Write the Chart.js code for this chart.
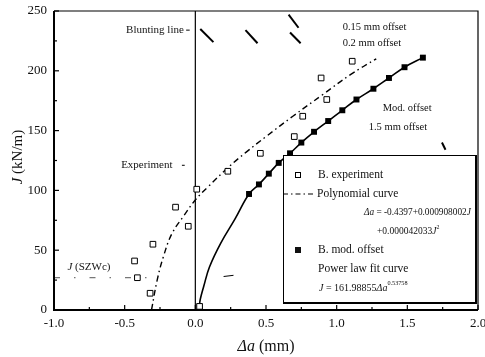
<!DOCTYPE html>
<html>
<head>
<meta charset="utf-8">
<script src="https://cdn.jsdelivr.net/npm/chart.js@4.4.0/dist/chart.umd.min.js"></script>
<style>
  body { margin: 0; background: #fff; }
  #wrap { position: relative; width: 485px; height: 357px; }
</style>
</head>
<body>
<div id="wrap"><canvas id="grafico"></canvas></div>
<script>
// eixos
const xMin = -1.0, xMax = 2.0, xStep = 0.5;
const yMin = 0, yMax = 250, yStep = 50;

// B. experiment (quadrados vazios)
const expDa = [-0.43, -0.41, -0.32, -0.30, -0.14, -0.05, 0.01, 0.03, 0.23, 0.46, 0.70, 0.76, 0.89, 0.93, 1.11];
const expJ  = [41, 27, 14, 55, 86, 70, 101, 3, 116, 131, 145, 162, 194, 176, 208];

// Polynomial curve (traço-ponto)
const polyDa = [-0.31, -0.27, -0.225, -0.165, -0.08, 0.0, 0.09, 0.24, 0.36, 0.50, 0.69, 0.90, 1.10, 1.28];
const polyJ  = [0, 25, 45, 64, 79, 92, 103, 120, 132, 145, 162, 180, 197, 210];

// B. mod. offset (quadrados cheios)
const modDa = [0.03, 0.38, 0.45, 0.52, 0.59, 0.67, 0.75, 0.84, 0.94, 1.04, 1.14, 1.26, 1.37, 1.48, 1.61];
const modJ  = [3, 97, 105, 114, 123, 131, 140, 149, 158, 167, 176, 185, 194, 203, 211];

// Power law fit curve (linha cheia)
const powDa = [0.028, 0.035, 0.06, 0.10, 0.18, 0.28, 0.38, 0.45, 0.52, 0.59, 0.67, 0.75, 0.84, 0.94, 1.04, 1.14, 1.26, 1.37, 1.48, 1.61];
const powJ  = [3, 9, 20, 36, 56, 76, 97, 105, 114, 123, 131, 140, 149, 158, 167, 176, 185, 194, 203, 211];

// Blunting line e J(SZWc)
const bluntDa = [0, 0];
const bluntJ = [0, 250];
const szwcDa = [-1.0, -0.31];
const szwcJ = [27, 27];

const serif = "'Liberation Serif', 'Times New Roman', serif";
const pts = (xs, ys) => xs.map((x, i) => ({ x: x, y: ys[i] }));

function drawRuns(ctx, x, y, runs, size) {
  runs.forEach(r => {
    const s = r.sup ? size * 0.62 : size;
    ctx.font = (r.it ? 'italic ' : '') + s + 'px ' + serif;
    ctx.fillText(r.t, x, y + (r.sup ? -size * 0.42 : 0));
    x += ctx.measureText(r.t).width;
  });
  return x;
}
function runsWidth(ctx, runs, size) {
  let w = 0;
  runs.forEach(r => {
    const s = r.sup ? size * 0.62 : size;
    ctx.font = (r.it ? 'italic ' : '') + s + 'px ' + serif;
    w += ctx.measureText(r.t).width;
  });
  return w;
}

// textos soltos no gráfico (posição em unidades dos eixos)
const notas = [
  { t: [{ t: 'Blunting line' }], x: -0.49, y: 234, s: 11 },
  { t: [{ t: 'Experiment' }], x: -0.525, y: 121, s: 11 },
  { t: [{ t: 'J', it: true }, { t: ' (SZWc)' }], x: -0.905, y: 36, s: 11 },
  { t: [{ t: '0.15 mm offset' }], x: 1.043, y: 236, s: 10.5 },
  { t: [{ t: '0.2 mm offset' }], x: 1.043, y: 223, s: 10.5 },
  { t: [{ t: 'Mod. offset' }], x: 1.326, y: 169, s: 10.5 },
  { t: [{ t: '1.5 mm offset' }], x: 1.227, y: 153, s: 10.5 }
];
// pequenas setas / traços do original
const marcas = [
  [-0.065, 234, -0.04, 234, 1], [-0.095, 121, -0.075, 121, 1],
  [0.035, 235, 0.128, 224, 2], [0.355, 234, 0.44, 223, 2],
  [0.66, 247, 0.73, 236, 2], [0.67, 232, 0.745, 223, 2],
  [1.745, 140, 1.77, 134, 2], [0.20, 28, 0.27, 29, 1]
];

const molduraPlugin = {
  id: 'moldura',
  afterDatasetsDraw(chart) {
    const ctx = chart.ctx;
    const a = chart.chartArea;
    const xs = chart.scales.x, ys = chart.scales.y;
    ctx.save();
    ctx.strokeStyle = '#000';
    ctx.fillStyle = '#111';

    // moldura
    ctx.lineWidth = 1.2;
    ctx.beginPath();
    ctx.moveTo(a.left, a.top); ctx.lineTo(a.right, a.top); ctx.lineTo(a.right, a.bottom);
    ctx.stroke();
    ctx.lineWidth = 2;
    ctx.beginPath();
    ctx.moveTo(a.left, a.top); ctx.lineTo(a.left, a.bottom); ctx.lineTo(a.right, a.bottom);
    ctx.stroke();

    // ticks para dentro
    ctx.lineWidth = 1.2;
    for (let v = xMin; v <= xMax + 1e-9; v += xStep / 2) {
      const px = xs.getPixelForValue(v);
      const major = Math.abs(v / xStep - Math.round(v / xStep)) < 1e-6;
      ctx.beginPath(); ctx.moveTo(px, a.bottom); ctx.lineTo(px, a.bottom - (major ? 5 : 3)); ctx.stroke();
    }
    for (let v = yMin; v <= yMax + 1e-9; v += yStep / 2) {
      const py = ys.getPixelForValue(v);
      const major = v % yStep === 0;
      ctx.beginPath(); ctx.moveTo(a.left, py); ctx.lineTo(a.left + (major ? 5 : 3), py); ctx.stroke();
    }

    // títulos dos eixos
    ctx.textBaseline = 'middle';
    const tx = [{ t: 'Δa', it: true }, { t: ' (mm)' }];
    drawRuns(ctx, 266 - runsWidth(ctx, tx, 16) / 2, 347, tx, 16);
    const ty = [{ t: 'J', it: true }, { t: ' (kN/m)' }];
    ctx.save();
    ctx.translate(18, 157);
    ctx.rotate(-Math.PI / 2);
    drawRuns(ctx, -runsWidth(ctx, ty, 15) / 2, 0, ty, 15);
    ctx.restore();

    // notas
    notas.forEach(n => {
      drawRuns(ctx, xs.getPixelForValue(n.x), ys.getPixelForValue(n.y), n.t, n.s);
    });
    marcas.forEach(m => {
      ctx.lineWidth = m[4];
      ctx.beginPath();
      ctx.moveTo(xs.getPixelForValue(m[0]), ys.getPixelForValue(m[1]));
      ctx.lineTo(xs.getPixelForValue(m[2]), ys.getPixelForValue(m[3]));
      ctx.stroke();
    });

    // legenda
    const L = 283, T = 155, R = 475, B = 302;
    ctx.fillStyle = '#fff';
    ctx.fillRect(L, T, R - L, B - T);
    ctx.lineWidth = 1;
    ctx.strokeRect(L + 0.5, T + 0.5, R - L, B - T);
    ctx.lineWidth = 2;
    ctx.beginPath(); ctx.moveTo(L, B + 1); ctx.lineTo(R + 1, B + 1); ctx.lineTo(R + 1, T); ctx.stroke();
    ctx.fillStyle = '#111';
    const rows = [175, 194, 212.5, 231, 250, 269, 288];
    // quadrado vazio
    ctx.lineWidth = 1;
    ctx.strokeRect(295.5, rows[0] - 2.5, 5, 5);
    // traço-ponto
    ctx.setLineDash([5, 3, 1.5, 3]);
    ctx.lineWidth = 1.2;
    ctx.beginPath(); ctx.moveTo(283, rows[1]); ctx.lineTo(315, rows[1]); ctx.stroke();
    ctx.setLineDash([]);
    // quadrado cheio
    ctx.fillRect(295, rows[4] - 3, 6, 6);

    drawRuns(ctx, 318, rows[0], [{ t: 'B. experiment' }], 11.5);
    drawRuns(ctx, 317, rows[1], [{ t: 'Polynomial curve' }], 11.5);
    drawRuns(ctx, 364, rows[2], [{ t: 'Δa', it: true }, { t: ' = -0.4397+0.000908002' }, { t: 'J', it: true }], 9.3);
    drawRuns(ctx, 377, rows[3], [{ t: '+0.000042033' }, { t: 'J', it: true }, { t: '2', sup: true }], 9.5);
    drawRuns(ctx, 318, rows[4], [{ t: 'B. mod. offset' }], 11.5);
    drawRuns(ctx, 318, rows[5], [{ t: 'Power law fit curve' }], 11.5);
    drawRuns(ctx, 319, rows[6], [{ t: 'J', it: true }, { t: ' = 161.98855' }, { t: 'Δa', it: true }, { t: '0.53758', sup: true }], 10);
    ctx.restore();
  }
};

Chart.defaults.font.family = serif;
Chart.defaults.color = '#111';

new Chart(document.getElementById('grafico'), {
  type: 'scatter',
  data: {
    datasets: [
      {
        label: 'B. experiment',
        data: pts(expDa, expJ),
        pointStyle: 'rect', pointRadius: 4, pointBorderWidth: 1,
        pointBackgroundColor: '#fff', pointBorderColor: '#000',
        showLine: false, order: 1
      },
      {
        label: 'B. mod. offset',
        data: pts(modDa, modJ),
        pointStyle: 'rect', pointRadius: 4.2, pointBorderWidth: 0,
        pointBackgroundColor: '#000', pointBorderColor: '#000',
        showLine: false, order: 1
      },
      {
        label: 'Polynomial curve',
        data: pts(polyDa, polyJ),
        showLine: true, pointRadius: 0, borderColor: '#000', borderWidth: 1.4,
        borderDash: [6, 3.5, 1.5, 3.5], tension: 0.4, order: 3
      },
      {
        label: 'Power law fit curve',
        data: pts(powDa, powJ),
        showLine: true, pointRadius: 0, borderColor: '#000', borderWidth: 1.6,
        tension: 0.4, order: 3
      },
      {
        label: 'Blunting line',
        data: pts(bluntDa, bluntJ),
        showLine: true, pointRadius: 0, borderColor: '#000', borderWidth: 1.2, order: 4
      },
      {
        label: 'J (SZWc)',
        data: pts(szwcDa, szwcJ),
        showLine: true, pointRadius: 0, borderColor: '#555', borderWidth: 1,
        borderDash: [6, 14, 1.5, 14], order: 4
      }
    ]
  },
  options: {
    responsive: true,
    maintainAspectRatio: false,
    animation: false,
    layout: { padding: { top: 11, right: 7, left: 0, bottom: 0 } },
    plugins: { legend: { display: false }, tooltip: { enabled: false } },
    scales: {
      x: {
        type: 'linear', min: xMin, max: xMax,
        grid: { display: false, drawTicks: false },
        border: { display: false },
        ticks: { stepSize: xStep, padding: 6, color: '#111', font: { size: 13 }, callback: v => v.toFixed(1) },
        afterFit: s => { s.height = 47; s.paddingLeft = 0; s.paddingRight = 0; }
      },
      y: {
        type: 'linear', min: yMin, max: yMax,
        grid: { display: false, drawTicks: false },
        border: { display: false },
        ticks: { stepSize: yStep, padding: 7, color: '#111', font: { size: 13 } },
        afterFit: s => { s.width = 54; s.paddingTop = 0; s.paddingBottom = 0; }
      }
    }
  },
  plugins: [molduraPlugin]
});
</script>
</body>
</html>
